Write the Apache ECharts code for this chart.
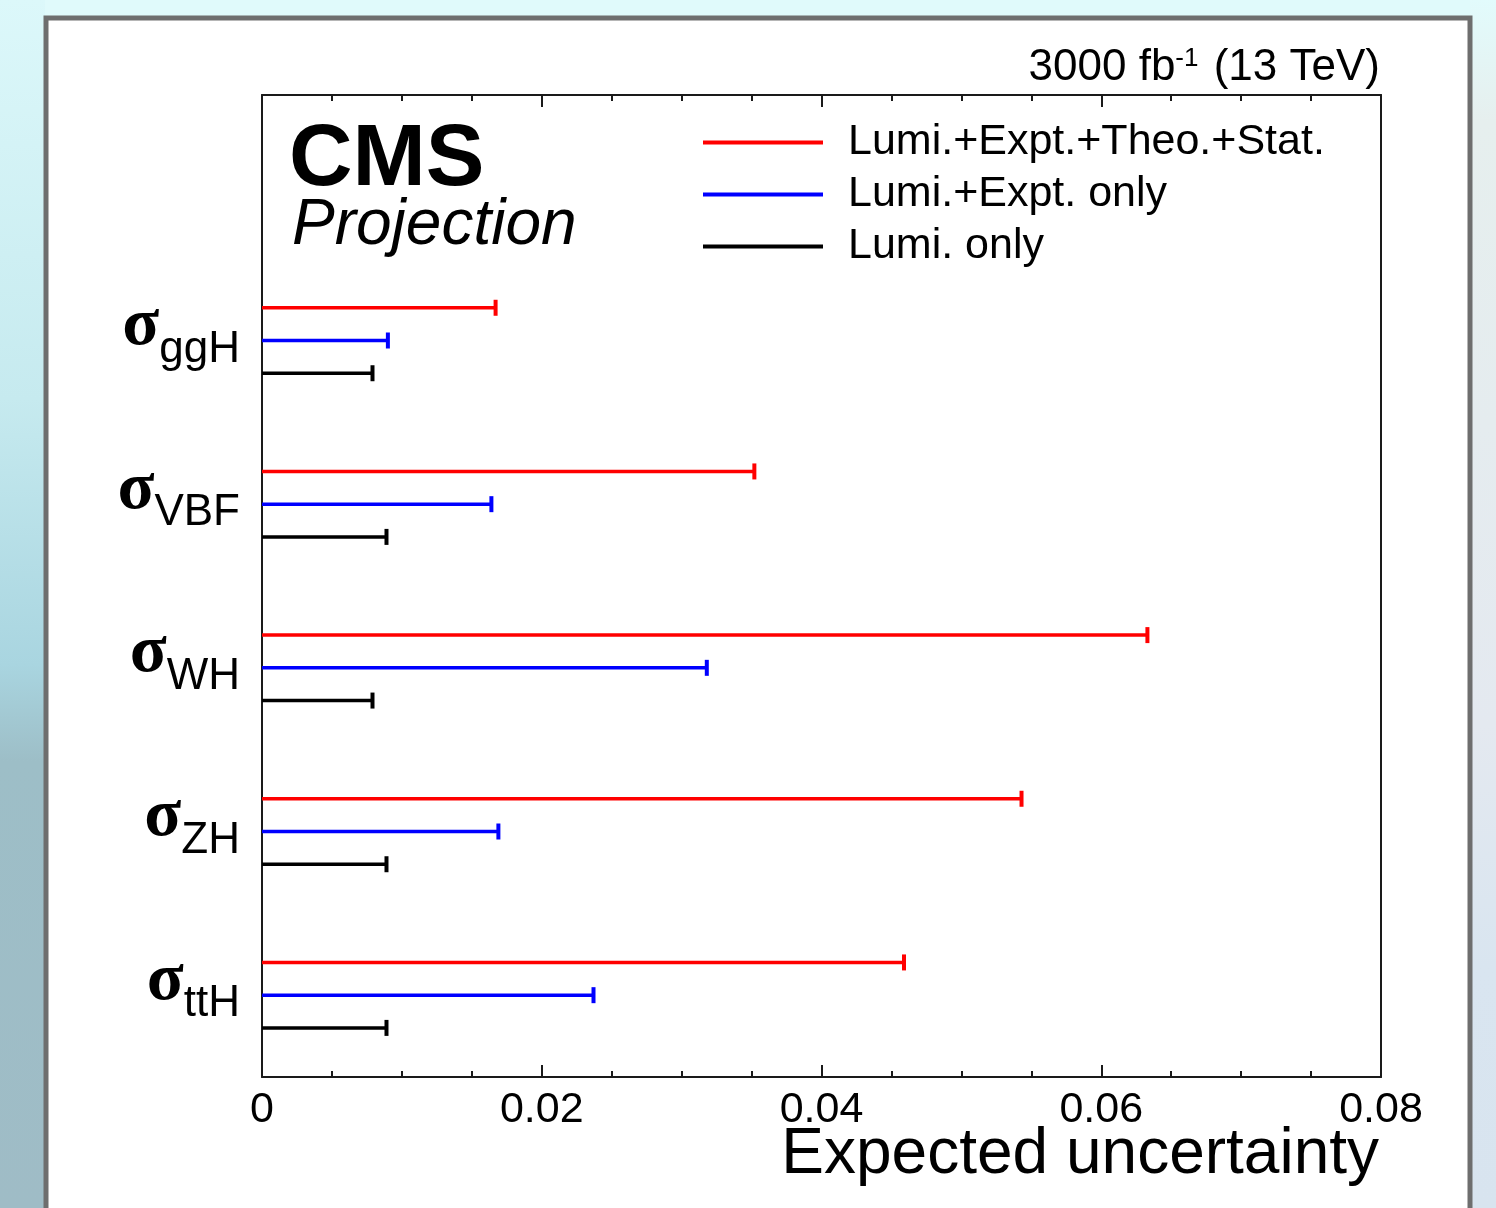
<!DOCTYPE html>
<html>
<head>
<meta charset="utf-8">
<script src="https://cdn.jsdelivr.net/npm/echarts@6/dist/echarts.min.js"></script>
<style>
  html, body { margin: 0; padding: 0; background: #e0fafb; }
  #chart { width: 1496px; height: 1208px; }
</style>
</head>
<body>
<div id="chart"></div>
<script>
// categories (top to bottom), first row left empty for the CMS label + legend
const categories = ['', 'ggH', 'VBF', 'WH', 'ZH', 'ttH'];
const seriesNames = ['Lumi.+Expt.+Theo.+Stat.', 'Lumi.+Expt. only', 'Lumi. only'];
const seriesColors = ['#ff0000', '#0000ff', '#000000'];
// expected uncertainty per process (ggH, VBF, WH, ZH, ttH)
const fullUnc = [0.0167, 0.0352, 0.0633, 0.0543, 0.0459];
const exptUnc = [0.0090, 0.0164, 0.0318, 0.0169, 0.0237];
const lumiUnc = [0.0079, 0.0089, 0.0079, 0.0089, 0.0089];
const xTicks = [0, 0.02, 0.04, 0.06, 0.08];

const chart = echarts.init(document.getElementById('chart'));

function toData(values) {
  return values.map((v, i) => [v, i + 1]);
}

// vertical offset of each series inside a category band (fraction of band)
const bandOffsets = [-0.2, 0, 0.2];

function makeRender(k) {
  return function (params, api) {
    const v = api.value(0);
    const c = api.value(1);
    const band = api.size([0, 1])[1];
    const p0 = api.coord([0, c]);
    const p1 = api.coord([v, c]);
    const y = p0[1] + bandOffsets[k] * band;
    const color = seriesColors[k];
    return {
      type: 'group',
      children: [
        {
          type: 'line',
          shape: { x1: p0[0], y1: y, x2: p1[0], y2: y },
          style: { stroke: color, lineWidth: 3.5 },
        },
        {
          type: 'line',
          shape: { x1: p1[0], y1: y - 8, x2: p1[0], y2: y + 8 },
          style: { stroke: color, lineWidth: 4 },
        },
      ],
    };
  };
}

const dataSets = [fullUnc, exptUnc, lumiUnc];

// label styles: sigma (serif) and subscript (sans); a hidden copy keeps widths equal
const sigmaStyle = { fontFamily: 'Liberation Serif', fontWeight: 'bold', fontSize: 68, color: '#000' };
const subStyle = { fontFamily: 'Liberation Sans', fontSize: 44, color: '#000' };

const baseYAxis = {
  type: 'category',
  data: categories,
  inverse: true,
  position: 'left',
  axisTick: { show: false },
  splitLine: { show: false },
};

const option = {
  backgroundColor: 'transparent',
  animation: false,
  graphic: [
    {
      type: 'rect',
      z: -10,
      shape: { x: 0, y: 0, width: 45, height: 1208 },
      style: {
        fill: new echarts.graphic.LinearGradient(0, 0, 0, 1, [
          { offset: 0, color: '#dcf8fa' },
          { offset: 0.33, color: '#c6eaef' },
          { offset: 0.55, color: '#a9d5e0' },
          { offset: 0.63, color: '#9dbec7' },
          { offset: 1, color: '#9fbcc6' },
        ]),
      },
    },
    {
      type: 'rect',
      z: -10,
      shape: { x: 1470, y: 0, width: 26, height: 1208 },
      style: {
        fill: new echarts.graphic.LinearGradient(0, 0, 0, 1, [
          { offset: 0, color: '#e2fbfc' },
          { offset: 0.1, color: '#e6efee' },
          { offset: 0.6, color: '#e4e9f0' },
          { offset: 0.8, color: '#d9e5f0' },
          { offset: 1, color: '#d8e4ef' },
        ]),
      },
    },
    {
      type: 'rect',
      z: -5,
      shape: { x: 46, y: 18, width: 1424, height: 1220 },
      style: { fill: '#ffffff', stroke: '#6e6e6e', lineWidth: 5 },
    },
  ],
  title: [
    {
      text: 'CMS',
      left: 289,
      top: 117,
      padding: 0,
      textStyle: { fontFamily: 'Liberation Sans', fontWeight: 'bold', fontSize: 88, color: '#000' },
    },
    {
      text: 'Projection',
      left: 292,
      top: 194,
      padding: 0,
      textStyle: { fontFamily: 'Liberation Sans', fontStyle: 'italic', fontWeight: 'normal', fontSize: 64, color: '#000' },
    },
    {
      text: '3000 fb{sup|-1} (13 TeV)',
      right: 116,
      top: 46,
      padding: 0,
      textStyle: {
        fontFamily: 'Liberation Sans',
        fontWeight: 'normal',
        fontSize: 44,
        color: '#000',
        rich: {
          sup: { fontFamily: 'Liberation Sans', fontSize: 26, verticalAlign: 'top', padding: [0, 3, 14, 0] },
        },
      },
    },
    {
      text: 'Expected uncertainty',
      right: 117,
      top: 1123,
      padding: 0,
      textStyle: { fontFamily: 'Liberation Sans', fontWeight: 'normal', fontSize: 64, color: '#000' },
    },
  ],
  legend: {
    orient: 'vertical',
    left: 703,
    top: 121,
    padding: 0,
    itemWidth: 120,
    itemHeight: 4,
    itemGap: 9,
    icon: 'rect',
    data: seriesNames,
    textStyle: { fontFamily: 'Liberation Sans', fontSize: 43, lineHeight: 42, color: '#000', padding: [0, 0, 0, 20] },
  },
  grid: { left: 262, top: 95, right: 115, bottom: 131, containLabel: false, outerBoundsMode: 'none' },
  xAxis: [
    {
      type: 'value',
      min: 0,
      max: 0.08,
      interval: 0.02,
      position: 'bottom',
      splitLine: { show: false },
      axisLine: { show: true, lineStyle: { color: '#1a1a1a', width: 2 } },
      axisTick: { show: true, inside: true, length: 12, lineStyle: { color: '#1a1a1a', width: 2 } },
      minorTick: { show: true, splitNumber: 4, length: 6, lineStyle: { color: '#1a1a1a', width: 2 } },
      axisLabel: {
        margin: 12,
        fontFamily: 'Liberation Sans',
        fontSize: 43,
        color: '#000',
        formatter: (v) => (xTicks.indexOf(v) >= 0 ? String(v) : ''),
        showMinLabel: true,
        showMaxLabel: true,
      },
    },
    {
      type: 'value',
      min: 0,
      max: 0.08,
      interval: 0.02,
      position: 'top',
      splitLine: { show: false },
      axisLine: { show: true, lineStyle: { color: '#1a1a1a', width: 2 } },
      axisTick: { show: true, inside: true, length: 12, lineStyle: { color: '#1a1a1a', width: 2 } },
      minorTick: { show: true, splitNumber: 4, length: 6, lineStyle: { color: '#1a1a1a', width: 2 } },
      axisLabel: { show: false },
    },
  ],
  yAxis: [
    Object.assign({}, baseYAxis, {
      // subscripts, shifted down
      axisLine: { show: true, lineStyle: { color: '#1a1a1a', width: 2 } },
      axisLabel: {
        margin: 22,
        padding: [18, 0, 0, 0],
        formatter: (name) => (name ? '{hs|σ}{sub|' + name + '}' : ''),
        rich: {
          hs: Object.assign({}, sigmaStyle, { color: 'rgba(0,0,0,0)' }),
          sub: subStyle,
        },
      },
    }),
    Object.assign({}, baseYAxis, {
      // sigma symbols, shifted up
      axisLine: { show: false },
      axisLabel: {
        margin: 22,
        padding: [0, 0, 28, 0],
        formatter: (name) => (name ? '{s|σ}{hsub|' + name + '}' : ''),
        rich: {
          s: sigmaStyle,
          hsub: Object.assign({}, subStyle, { color: 'rgba(0,0,0,0)' }),
        },
      },
    }),
    Object.assign({}, baseYAxis, {
      position: 'right',
      axisLine: { show: true, lineStyle: { color: '#1a1a1a', width: 2 } },
      axisLabel: { show: false },
    }),
  ],
  series: seriesNames.map((name, k) => ({
    name: name,
    type: 'custom',
    color: seriesColors[k],
    renderItem: makeRender(k),
    encode: { x: 0, y: 1 },
    data: toData(dataSets[k]),
  })),
};

chart.setOption(option);
</script>
</body>
</html>
